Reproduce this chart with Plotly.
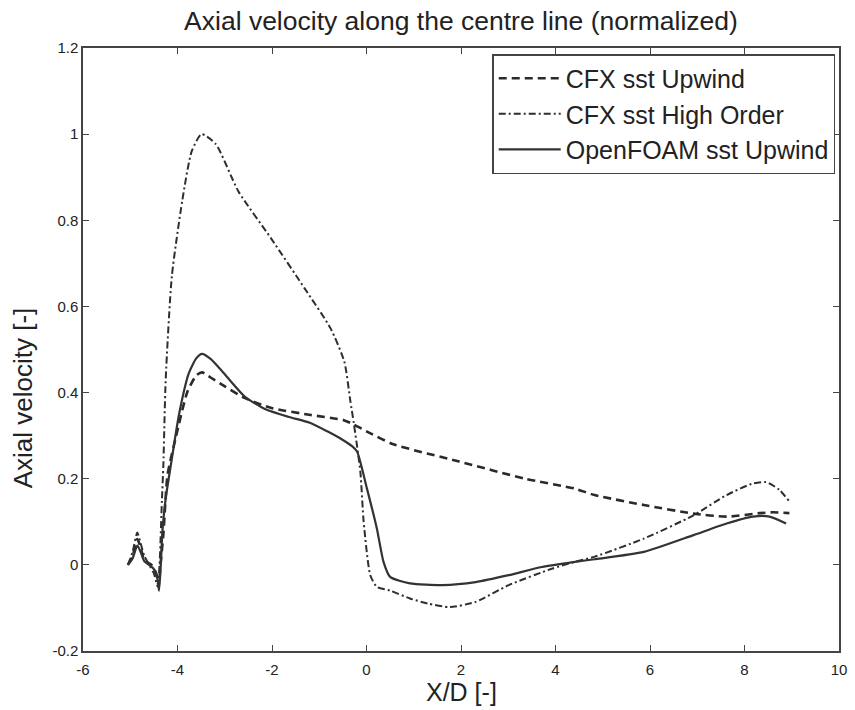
import plotly.graph_objects as go

# ---- data ----
cfx_upwind_x = [-5.05, -4.95, -4.85, -4.78, -4.7, -4.55, -4.45, -4.4, -4.36, -4.3, -4.21, -4.04, -3.79,
                -3.6, -3.48, -3.3, -2.99, -2.57, -2.01, -1.18, -0.48, -0.27, 0.0, 0.57, 1.96, 3.36,
                4.41, 4.83, 5.87, 6.92, 7.62, 8.32, 8.6, 8.95]
cfx_upwind_y = [0.0, 0.02, 0.06, 0.04, 0.01, 0.0, -0.02, -0.05, 0.0, 0.07, 0.209, 0.294, 0.402,
                0.44, 0.447, 0.435, 0.414, 0.387, 0.364, 0.348, 0.336, 0.326, 0.31, 0.28, 0.24, 0.2,
                0.177, 0.162, 0.139, 0.119, 0.112, 0.12, 0.122, 0.12]

cfx_high_x = [-5.05, -4.95, -4.85, -4.78, -4.7, -4.6, -4.5, -4.42, -4.38, -4.33, -4.3, -4.25, -4.12,
              -3.9, -3.7, -3.49, -3.19, -2.71, -2.02, -1.31, -0.76, -0.47, -0.34, -0.27, -0.13,
              -0.06, 0.08, 0.22, 0.5, 0.92, 1.3, 1.76, 2.31, 3.01, 3.92, 4.41, 4.83, 5.87, 6.92,
              7.62, 8.18, 8.46, 8.74, 8.95]
cfx_high_y = [0.0, 0.03, 0.075, 0.05, 0.02, 0.0, -0.02, -0.05, 0.0, 0.15, 0.23, 0.43, 0.67,
              0.845, 0.96, 1.0, 0.977, 0.867, 0.758, 0.642, 0.549, 0.472, 0.379, 0.33, 0.216,
              0.1, -0.024, -0.051, -0.06, -0.078, -0.09, -0.098, -0.086, -0.047, -0.009, 0.007,
              0.019, 0.061, 0.115, 0.162, 0.189, 0.192, 0.174, 0.147]

of_upwind_x = [-5.05, -4.95, -4.85, -4.78, -4.7, -4.6, -4.5, -4.42, -4.39, -4.35, -4.32, -4.25, -4.14,
               -3.97, -3.76, -3.6, -3.48, -3.3, -3.06, -2.57, -2.15, -1.66, -1.2, -0.83, -0.5, -0.3,
               -0.2, 0.01, 0.22, 0.36, 0.5, 0.92, 1.61, 2.31, 3.01, 3.71, 4.41, 4.83, 5.87, 6.92,
               7.62, 8.18, 8.53, 8.88]
of_upwind_y = [0.0, 0.015, 0.045, 0.03, 0.008, 0.0, -0.01, -0.035, -0.06, 0.007, 0.077, 0.154, 0.232,
               0.348, 0.445, 0.48, 0.49, 0.478, 0.45, 0.39, 0.362, 0.344, 0.33, 0.31, 0.29, 0.275,
               0.263, 0.177, 0.084, 0.007, -0.028, -0.043, -0.047, -0.04, -0.024, -0.005, 0.007,
               0.013, 0.03, 0.069, 0.096, 0.112, 0.112, 0.096]

series_names = ["CFX sst Upwind", "CFX sst High Order", "OpenFOAM sst Upwind"]

x_ticks = [-6, -4, -2, 0, 2, 4, 6, 8, 10]
y_ticks = [-0.2, 0, 0.2, 0.4, 0.6, 0.8, 1, 1.2]
y_tick_labels = ["-0.2", "0", "0.2", "0.4", "0.6", "0.8", "1", "1.2"]
x_tick_labels = ["-6", "-4", "-2", "0", "2", "4", "6", "8", "10"]

FONT = "Liberation Sans, Arial, sans-serif"

fig = go.Figure()
fig.add_trace(go.Scatter(x=cfx_upwind_x, y=cfx_upwind_y, mode="lines", name=series_names[0],
                         legendgroup="a",
                         line=dict(color="#2a2a2a", width=2.6, dash="8px,5px", shape="spline", smoothing=0.6)))
fig.add_trace(go.Scatter(x=cfx_high_x, y=cfx_high_y, mode="lines", name=series_names[1],
                         legendgroup="b",
                         line=dict(color="#2e2e2e", width=2.0, dash="7px,3px,2px,3px", shape="spline", smoothing=0.6)))
fig.add_trace(go.Scatter(x=of_upwind_x, y=of_upwind_y, mode="lines", name=series_names[2],
                         legendgroup="c",
                         line=dict(color="#333333", width=2.2, shape="spline", smoothing=0.6)))

axis_common = dict(showline=True, linecolor="#444", linewidth=1.5, mirror="ticks",
                   ticks="inside", ticklen=6, tickwidth=1.2, tickcolor="#444",
                   showgrid=False, zeroline=False,
                   tickfont=dict(family=FONT, size=15, color="#222"))

fig.update_xaxes(range=[-6, 10], tickvals=x_ticks, ticktext=x_tick_labels,
                 ticklabelstandoff=4, **axis_common)
fig.update_yaxes(range=[-0.2, 1.2], tickvals=y_ticks, ticktext=y_tick_labels, **axis_common)

fig.update_layout(
    width=855, height=710,
    margin=dict(l=83, r=8, t=48, b=59),
    paper_bgcolor="white", plot_bgcolor="white",
    font=dict(family=FONT, color="#222"),
    title=dict(text="Axial velocity along the centre line (normalized)",
               x=(461 / 855), xanchor="center", y=1 - 21 / 710, yanchor="middle",
               font=dict(family=FONT, size=26.5, color="#222")),
    showlegend=True,
    legend=dict(x=0.995, y=0.99, xanchor="right", yanchor="top",
                bgcolor="white", bordercolor="#444", borderwidth=1.5,
                font=dict(family=FONT, size=25, color="#222"),
                itemwidth=62, tracegroupgap=0, traceorder="grouped"),
    annotations=[
        dict(text="X/D [-]", xref="paper", yref="paper", x=0.5, y=-0.068, xanchor="center",
             yanchor="middle", showarrow=False, font=dict(family=FONT, size=25, color="#222")),
        dict(text="Axial velocity [-]", xref="paper", yref="paper", x=-0.08, y=0.42,
             xanchor="center", yanchor="middle", textangle=-90, showarrow=False,
             font=dict(family=FONT, size=26, color="#222")),
    ],
)

fig.write_html("out.html")
